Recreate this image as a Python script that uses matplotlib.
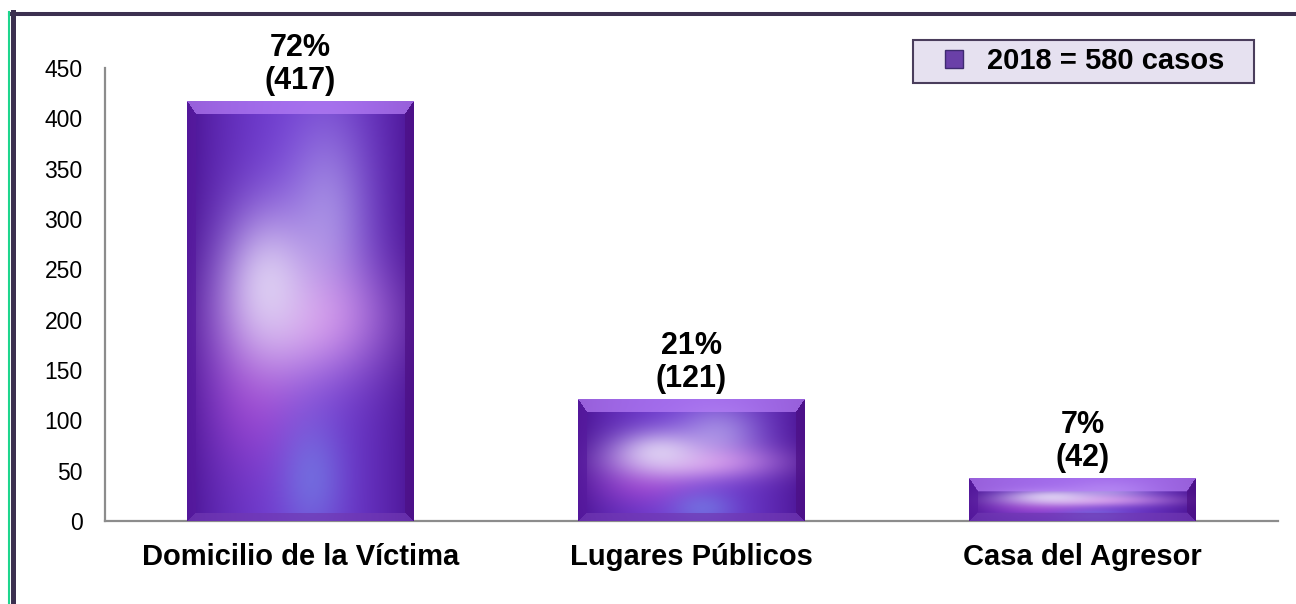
import numpy as np
import matplotlib
matplotlib.use("Agg")
import matplotlib.pyplot as plt
from matplotlib.lines import Line2D

# ---------------------------------
# data
categories = ["Domicilio de la Víctima", "Lugares Públicos", "Casa del Agresor"]
casos = [417, 121, 42]
porcentajes = ["72%", "21%", "7%"]
yticks = [0, 50, 100, 150, 200, 250, 300, 350, 400, 450]
legend_label = "2018 = 580 casos"

plt.rcParams["font.family"] = ["Liberation Sans", "DejaVu Sans"]


def bar_texture(nx, ny):
    # purple glossy texture with bevelled edges, in pixel units
    u = np.linspace(0, 1, nx)[None, :]
    t = np.linspace(0, 1, ny)[:, None]
    dark = np.array([0.29, 0.07, 0.57])
    mid = np.array([0.44, 0.24, 0.82])
    h = np.sin(np.pi * u) ** 0.8
    img = dark + (mid - dark) * h[..., None]
    img = np.broadcast_to(img, (ny, nx, 3)).copy()

    glows = [
        ((0.30, 0.70), (0.16, 0.13), (0.74, 0.30, 0.84), 0.5),
        ((0.55, 0.90), (0.10, 0.10), (0.45, 0.52, 0.90), 0.6),
        ((0.62, 0.28), (0.13, 0.17), (0.74, 0.70, 0.93), 0.6),
        ((0.55, 0.52), (0.24, 0.10), (0.92, 0.65, 0.94), 0.7),
        ((0.36, 0.44), (0.15, 0.13), (0.89, 0.85, 0.96), 0.85),
    ]
    for (cu, ct), (su, st), c, s in glows:
        a = s * np.exp(-((u - cu) ** 2 / (2 * su ** 2) + (t - ct) ** 2 / (2 * st ** 2)))
        img = img * (1 - a[..., None]) + np.array(c) * a[..., None]

    # bevel
    yy, xx = np.mgrid[0:ny, 0:nx]
    dl = xx / 9.0
    dr = (nx - 1 - xx) / 9.0
    dt = yy / 13.0
    db = (ny - 1 - yy) / 8.0
    d = np.stack([dt, dl, dr, db])
    which = np.argmin(d, axis=0)
    inb = d.min(axis=0) < 1
    bevel_cols = [(0.72, 0.50, 0.97), (0.34, 0.10, 0.62), (0.30, 0.06, 0.52), (0.44, 0.22, 0.70)]
    for k, c in enumerate(bevel_cols):
        m = inb & (which == k)
        img[m] = 0.3 * img[m] + 0.7 * np.array(c)
    return np.clip(img, 0, 1)


fig = plt.figure(figsize=(12.96, 6.04), dpi=100)
ax = fig.add_axes([0.081, 0.1374, 0.905, 0.75])

x = np.arange(len(categories))
width = 0.58
ax.set_xlim(-0.5, len(categories) - 0.5)
ax.set_ylim(0, 450)

bars = ax.bar(x, casos, width=width, color="#4a1590", zorder=2)

# paint texture inside each bar
for b in bars:
    x0, y0 = b.get_x(), b.get_y()
    x1, y1 = x0 + b.get_width(), y0 + b.get_height()
    p0 = ax.transData.transform((x0, y0))
    p1 = ax.transData.transform((x1, y1))
    nx = max(int(round(p1[0] - p0[0])), 2)
    ny = max(int(round(p1[1] - p0[1])), 2)
    ax.imshow(bar_texture(nx, ny), extent=(x0, x1, y0, y1), aspect="auto",
              interpolation="bilinear", zorder=3)

ax.set_xlim(-0.5, len(categories) - 0.5)
ax.set_ylim(0, 450)

# value labels
for xi, v, p in zip(x, casos, porcentajes):
    ax.annotate(f"{p}\n({v})", (xi, v), xytext=(0, 4), textcoords="offset points",
                ha="center", va="bottom", fontsize=22, fontweight="bold",
                linespacing=1.12, zorder=4)

ax.set_yticks(yticks)
ax.set_xticks(x)
ax.set_xticklabels(categories, fontsize=21, fontweight="bold")
ax.tick_params(axis="y", length=0, pad=16, labelsize=16.5)
ax.tick_params(axis="x", length=0, pad=16)

for s in ["top", "right"]:
    ax.spines[s].set_visible(False)
for s in ["left", "bottom"]:
    ax.spines[s].set_color("#8c8c8c")
    ax.spines[s].set_linewidth(1.6)

# legend
handle = Line2D([], [], linestyle="none", marker="s", markersize=13,
                markerfacecolor="#6a40a8", markeredgecolor="#3e2a70")
leg = fig.legend([handle], [legend_label], loc="upper left",
                 bbox_to_anchor=(913 / 1296, 1 - 86 / 604, 341 / 1296, 46 / 604),
                 mode="expand", borderaxespad=0, borderpad=0.25,
                 handlelength=2.3, handletextpad=0.0,
                 prop={"size": 21, "weight": "bold"}, fancybox=False)
leg.get_frame().set_facecolor("#e6e1f0")
leg.get_frame().set_edgecolor("#4a3d5c")
leg.get_frame().set_linewidth(1.5)
leg.get_frame().set_alpha(1)

# outer frame (top and left only, cut by the picture)
W, H = 1296, 604
fig.add_artist(Line2D([10 / W, 1], [1 - 13.5 / H, 1 - 13.5 / H], color="#3c3050",
                      linewidth=2.9, transform=fig.transFigure))
fig.add_artist(Line2D([12.8 / W, 12.8 / W], [0, 1 - 11.5 / H], color="#3c3050",
                      linewidth=3.6, transform=fig.transFigure))
fig.add_artist(Line2D([9 / W, 9 / W], [0, 1 - 11.5 / H], color="#1ed68e",
                      linewidth=1.5, transform=fig.transFigure))

fig.savefig("out.png", dpi=100)
